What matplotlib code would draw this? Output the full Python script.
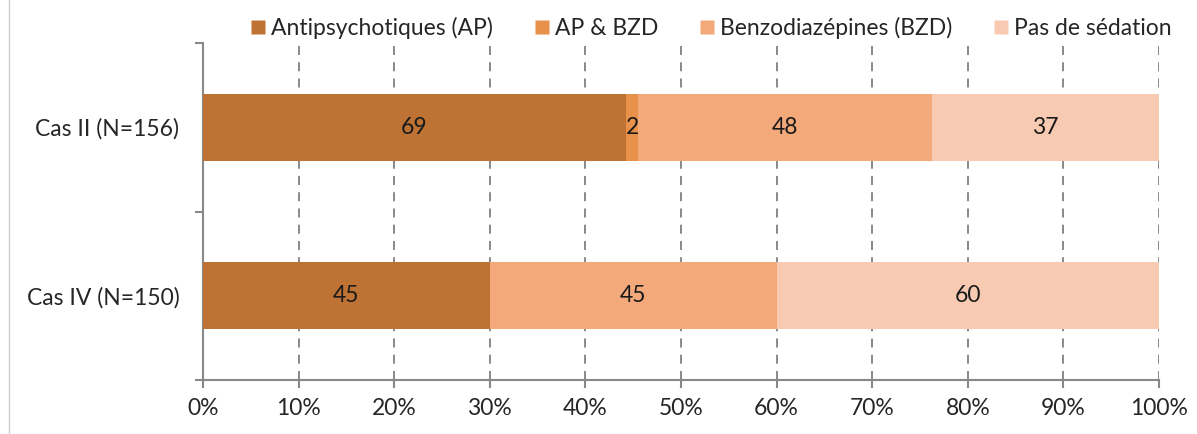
import matplotlib.pyplot as plt
import matplotlib.ticker as mtick
from matplotlib.lines import Line2D
import numpy as np

plt.rcParams['font.family'] = ['Lato', 'DejaVu Sans']

categories = ['Cas IV (N=150)', 'Cas II (N=156)']
series = ['Antipsychotiques (AP)', 'AP & BZD', 'Benzodiazépines (BZD)', 'Pas de sédation']
counts = {
    'Antipsychotiques (AP)': [45, 69],
    'AP & BZD': [0, 2],
    'Benzodiazépines (BZD)': [45, 48],
    'Pas de sédation': [60, 37],
}
colors = ['#BE7335', '#E8914A', '#F4A97A', '#F8CAB2']

totals = np.array([sum(counts[s][i] for s in series) for i in range(len(categories))])

fig = plt.figure(figsize=(11.97, 4.34), dpi=100)
ax = fig.add_axes([0.1696, 0.1244, 0.7987, 0.7765])

y = np.arange(len(categories))
left = np.zeros(len(categories))
for s, c in zip(series, colors):
    vals = np.array(counts[s], dtype=float)
    pct = vals / totals
    ax.barh(y, pct, left=left, height=0.4, color=c, edgecolor='none', zorder=3)
    for yi, v, l, p in zip(y, vals, left, pct):
        if v > 0:
            ax.text(l + p / 2, yi, f'{int(v)}', ha='center', va='center',
                    fontsize=16.5, color='#1a1a1a', zorder=4)
    left += pct

ax.set_xlim(0, 1)
ax.set_ylim(-0.5, 1.5)
ax.xaxis.set_major_locator(mtick.MultipleLocator(0.1))
ax.xaxis.set_major_formatter(mtick.PercentFormatter(1.0, decimals=0))
ax.set_yticks(y)
ax.set_yticklabels(categories)
ax.set_yticks([-0.5, 0.5, 1.5], minor=True)
ax.tick_params(axis='y', which='major', length=0, labelsize=16.5, pad=17,
               labelcolor='#262626')
ax.tick_params(axis='y', which='minor', length=6, color='#888888', width=1.5)
ax.tick_params(axis='x', length=6, color='#888888', width=1.5, labelsize=16.5, pad=7,
               labelcolor='#262626')

ax.grid(axis='x', linestyle=(0, (5, 4)), color='#808080', linewidth=1.3, zorder=0)
for side in ['top', 'right']:
    ax.spines[side].set_visible(False)
for side in ['left', 'bottom']:
    ax.spines[side].set_color('#888888')
    ax.spines[side].set_linewidth(1.5)

handles = [Line2D([], [], marker='s', linestyle='none', markersize=10,
                  markerfacecolor=c, markeredgecolor='none') for c in colors]
leg = fig.legend(handles, series, loc='upper right', bbox_to_anchor=(0.996, 1.008),
                 ncol=4, frameon=False, fontsize=16.5, handletextpad=0.1,
                 columnspacing=1.7, handlelength=0.9)
for t in leg.get_texts():
    t.set_color('#262626')

fig.add_artist(Line2D([0.0075, 0.0075], [0, 1], color='#d0d0d0', linewidth=1))

fig.savefig('out.png', dpi=100)
